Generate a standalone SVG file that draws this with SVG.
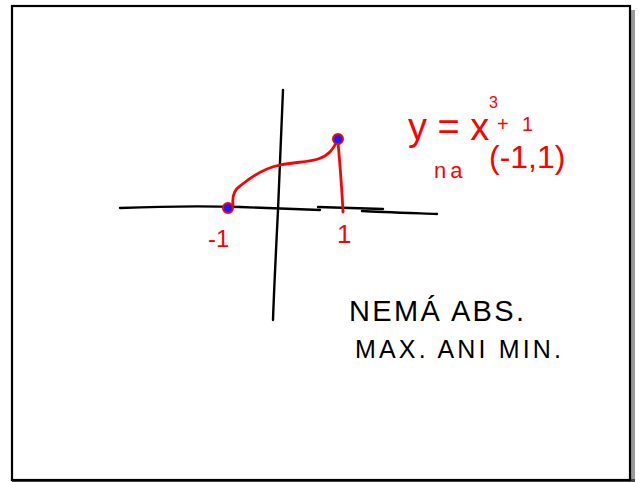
<svg xmlns="http://www.w3.org/2000/svg" width="639" height="482" viewBox="0 0 639 482">
<style>
.ax{fill:none;stroke:#000;stroke-width:2.4;stroke-linecap:round;stroke-linejoin:round}
.rd{fill:none;stroke:#f00;stroke-width:2.8;stroke-linecap:round;stroke-linejoin:round}
.pt{fill:#1a1aff;stroke:#f00;stroke-width:2}
.rt{fill:#f00;font-family:"Liberation Sans",Arial,sans-serif}
.bt{fill:#000;font-family:"Liberation Sans",Arial,sans-serif}
</style>
<rect x="0" y="0" width="639" height="482" fill="#fff"/>
<rect x="631" y="10" width="4" height="472" fill="#9a9a9a"/>
<rect x="12" y="479" width="623" height="3" fill="#444"/>
<rect x="12" y="6" width="618" height="474" fill="#fff" stroke="#000" stroke-width="2.2"/>
<g id="axes">
<path class="ax" d="M120,208 C170,206 210,206 240,207 C270,208 300,209 320,210"/>
<path class="ax" d="M318,207 L383,209"/>
<path class="ax" d="M362,211 C380,212 410,213 437,214"/>
<path class="ax" d="M283,90 C281,140 279,180 278,210 C276,250 274,290 273,320"/>
</g>
<g id="graph">
<path class="rd" d="M233,205 C232,196 234,190 240,186 C252,176 265,168 280,165 C295,162 310,162 318,159 C328,156 333,150 338,139"/>
<path class="rd" d="M338,142 C340,165 342,190 343,212"/>
</g>
<g id="point-left"><circle class="pt" cx="228" cy="208" r="5"/></g>
<g id="point-right"><circle class="pt" cx="338" cy="139" r="5"/></g>
<g id="labels">
<text class="rt" x="208" y="247" font-size="24">-1</text>
<text class="rt" x="337" y="243" font-size="26">1</text>
<text class="rt" x="408" y="140" font-size="38">y = x</text>
<text class="rt" x="489" y="108" font-size="16">3</text>
<text class="rt" x="497" y="131" font-size="20">+</text>
<text class="rt" x="522" y="131" font-size="20">1</text>
<text class="rt" x="434" y="178" font-size="22" letter-spacing="4">na</text>
<text class="rt" x="489" y="168" font-size="32">(-1,1)</text>
</g>
<g id="note">
<text class="bt" x="349" y="321" font-size="29" textLength="175" lengthAdjust="spacing">NEMÁ ABS.</text>
<text class="bt" x="355" y="358" font-size="25" textLength="206" lengthAdjust="spacing">MAX. ANI MIN.</text>
</g>
</svg>
